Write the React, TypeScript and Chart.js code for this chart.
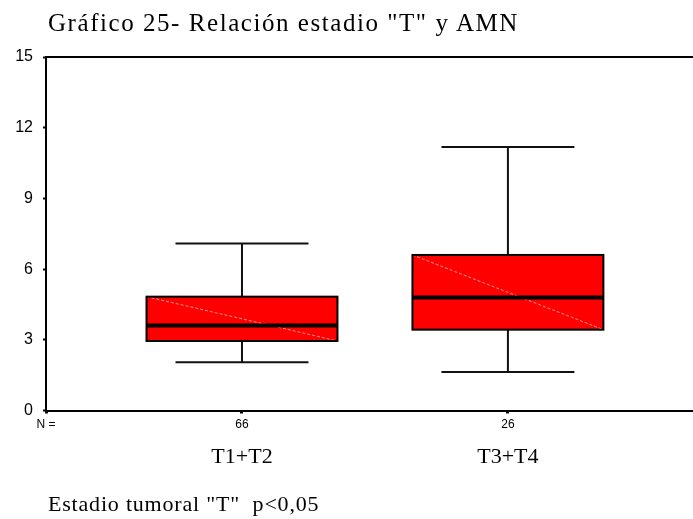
import React, { useEffect, useRef } from "react";
import { Chart, registerables } from "chart.js";

Chart.register(...registerables);

// Box-plot summary per tumour stage group
const categories = ["T1+T2", "T3+T4"];
const countLabel = "N =";
const counts = ["66", "26"];
const positions = [1, 2];
const whiskerLow = [2.05, 1.63];
const q1 = [2.95, 3.43];
const median = [3.61, 4.79];
const q3 = [4.83, 6.6];
const whiskerHigh = [7.09, 11.18];
const yTicks = [0, 3, 6, 9, 12, 15];

const titleText = 'Gráfico 25- Relación estadio "T" y AMN';
const footerText = 'Estadio tumoral "T"  p<0,05';

// horizontal extent of the plotting range (in category units)
const X_MIN = 0.263;
const X_MAX = 2.696;
const BOX_WIDTH = 0.718;
const CAP_WIDTH = 0.5;

const boxPlotPlugin = {
  id: "boxPlot",
  afterDatasetsDraw(chart: any) {
    const { ctx, chartArea } = chart;
    const x = chart.scales.x;
    const y = chart.scales.y;
    ctx.save();

    // upper frame line
    ctx.strokeStyle = "#000";
    ctx.lineWidth = 2;
    ctx.beginPath();
    ctx.moveTo(chartArea.left, chartArea.top);
    ctx.lineTo(chartArea.right, chartArea.top);
    ctx.stroke();

    positions.forEach((p, i) => {
      const xc = x.getPixelForValue(p);
      const xl = x.getPixelForValue(p - BOX_WIDTH / 2);
      const xr = x.getPixelForValue(p + BOX_WIDTH / 2);
      const cl = x.getPixelForValue(p - CAP_WIDTH / 2);
      const cr = x.getPixelForValue(p + CAP_WIDTH / 2);
      const yLo = y.getPixelForValue(whiskerLow[i]);
      const yQ1 = y.getPixelForValue(q1[i]);
      const yMed = y.getPixelForValue(median[i]);
      const yQ3 = y.getPixelForValue(q3[i]);
      const yHi = y.getPixelForValue(whiskerHigh[i]);

      // whiskers and caps
      ctx.strokeStyle = "#111";
      ctx.lineWidth = 2;
      ctx.setLineDash([]);
      ctx.beginPath();
      ctx.moveTo(xc, yQ3);
      ctx.lineTo(xc, yHi);
      ctx.moveTo(xc, yQ1);
      ctx.lineTo(xc, yLo);
      ctx.moveTo(cl, yHi);
      ctx.lineTo(cr, yHi);
      ctx.moveTo(cl, yLo);
      ctx.lineTo(cr, yLo);
      ctx.stroke();

      // box
      ctx.fillStyle = "#ff0000";
      ctx.fillRect(xl, yQ3, xr - xl, yQ1 - yQ3);

      // light diagonal across the box
      ctx.strokeStyle = "rgba(255,160,160,0.95)";
      ctx.lineWidth = 1;
      ctx.setLineDash([3, 2]);
      ctx.beginPath();
      ctx.moveTo(xl, yQ3);
      ctx.lineTo(xr, yQ1);
      ctx.stroke();
      ctx.setLineDash([]);

      ctx.strokeStyle = "#000";
      ctx.lineWidth = 2;
      ctx.strokeRect(xl, yQ3, xr - xl, yQ1 - yQ3);

      // median
      ctx.lineWidth = 4;
      ctx.beginPath();
      ctx.moveTo(xl, yMed);
      ctx.lineTo(xr, yMed);
      ctx.stroke();
    });

    ctx.restore();
  },
};

export default function App() {
  const canvasRef = useRef<HTMLCanvasElement | null>(null);

  useEffect(() => {
    const canvas = canvasRef.current;
    if (!canvas) return;
    const chart = new Chart(canvas, {
      type: "scatter",
      data: { datasets: [] },
      options: {
        animation: false,
        responsive: false,
        devicePixelRatio: 1,
        layout: { padding: { top: 57, left: 0, right: 0, bottom: 43.5 } },
        plugins: {
          legend: { display: false },
          title: { display: false },
          tooltip: { enabled: false },
        },
        scales: {
          x: {
            type: "linear",
            position: "bottom",
            weight: 0,
            min: X_MIN,
            max: X_MAX,
            afterBuildTicks: (s: any) => {
              s.ticks = [X_MIN, ...positions].map((v) => ({ value: v }));
            },
            afterFit: (s: any) => {
              s.height = 25;
              s.paddingLeft = 0;
              s.paddingRight = 0;
            },
            ticks: {
              autoSkip: false,
              maxRotation: 0,
              minRotation: 0,
              padding: 4,
              color: "#000",
              font: { family: "'Liberation Sans', Arial, sans-serif", size: 12 },
              callback: (_v: any, i: number) => [countLabel, ...counts][i],
            },
            grid: {
              drawOnChartArea: false,
              tickLength: 3,
              tickWidth: 3,
              tickColor: "#000",
            },
            border: { color: "#000", width: 2 },
          },
          x2: {
            type: "linear",
            position: "bottom",
            weight: 1,
            min: X_MIN,
            max: X_MAX,
            afterBuildTicks: (s: any) => {
              s.ticks = positions.map((v) => ({ value: v }));
            },
            afterFit: (s: any) => {
              s.height = 40;
              s.paddingLeft = 0;
              s.paddingRight = 0;
            },
            ticks: {
              autoSkip: false,
              maxRotation: 0,
              minRotation: 0,
              padding: 1,
              color: "#000",
              font: { family: "'Liberation Serif', 'Times New Roman', serif", size: 22 },
              callback: (_v: any, i: number) => categories[i],
            },
            grid: { display: false },
            border: { display: false },
          },
          y: {
            type: "linear",
            position: "left",
            min: 0,
            max: 15,
            afterBuildTicks: (s: any) => {
              s.ticks = yTicks.map((v) => ({ value: v }));
            },
            afterFit: (s: any) => {
              s.width = 46;
              s.paddingTop = 0;
              s.paddingBottom = 0;
            },
            ticks: {
              padding: 10,
              color: "#000",
              font: { family: "'Liberation Sans', Arial, sans-serif", size: 16 },
            },
            grid: {
              drawOnChartArea: false,
              tickLength: 3,
              tickWidth: 2,
              tickColor: "#000",
            },
            border: { color: "#000", width: 2 },
          },
        },
      },
      plugins: [boxPlotPlugin],
    });
    return () => chart.destroy();
  }, []);

  const serif = "'Liberation Serif', 'Times New Roman', serif";

  return (
    <div style={{ position: "absolute", left: 0, top: 0, width: 693, height: 519, background: "#fff" }}>
      <canvas ref={canvasRef} width={693} height={519} style={{ position: "absolute", left: 0, top: 0 }} />
      <div
        style={{
          position: "absolute",
          left: 48,
          top: 10,
          fontFamily: serif,
          fontSize: 25,
          lineHeight: "25px",
          letterSpacing: "1.55px",
          whiteSpace: "pre",
          color: "#000",
        }}
      >
        {titleText}
      </div>
      <div
        style={{
          position: "absolute",
          left: 48,
          top: 493,
          fontFamily: serif,
          fontSize: 22,
          lineHeight: "22px",
          letterSpacing: "0.8px",
          whiteSpace: "pre",
          color: "#000",
        }}
      >
        {footerText}
      </div>
    </div>
  );
}
